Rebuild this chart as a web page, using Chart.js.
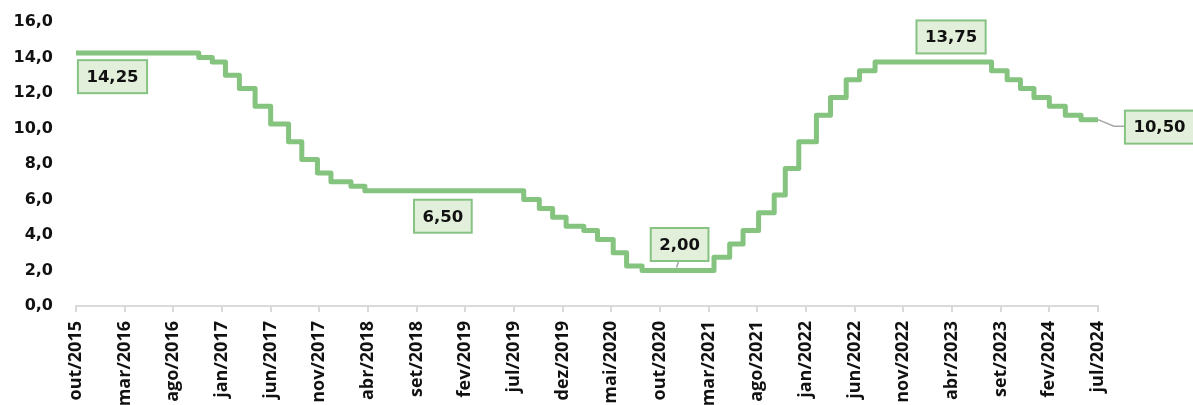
<!DOCTYPE html>
<html>
<head>
<meta charset="utf-8">
<script src="https://cdn.jsdelivr.net/npm/chart.js@4.4.1/dist/chart.umd.min.js"></script>
<style>
  html, body { margin: 0; padding: 0; background: #ffffff; }
  #wrap { width: 1193px; height: 405px; }
</style>
</head>
<body>
<div id="wrap"><canvas id="c" width="1193" height="405"></canvas></div>
<script>
// Copom decision dates (effective) and Selic target (% a.a.)
const decisionDates = ['2015-10-01','2016-10-20','2016-12-01','2017-01-12','2017-02-23','2017-04-13','2017-06-01','2017-07-27','2017-09-07','2017-10-26','2017-12-07','2018-02-08','2018-03-22','2019-08-01','2019-09-19','2019-10-31','2019-12-12','2020-02-06','2020-03-19','2020-05-07','2020-06-18','2020-08-06','2021-03-18','2021-05-06','2021-06-17','2021-08-05','2021-09-23','2021-10-28','2021-12-09','2022-02-03','2022-03-17','2022-05-05','2022-06-16','2022-08-04','2023-08-03','2023-09-21','2023-11-02','2023-12-14','2024-02-01','2024-03-21','2024-05-09','2024-07-01'];
const selicValues = [14.25,14.00,13.75,13.00,12.25,11.25,10.25,9.25,8.25,7.50,7.00,6.75,6.50,6.00,5.50,5.00,4.50,4.25,3.75,3.00,2.25,2.00,2.75,3.50,4.25,5.25,6.25,7.75,9.25,10.75,11.75,12.75,13.25,13.75,13.25,12.75,12.25,11.75,11.25,10.75,10.50,10.50];
const tickLabels = ['out/2015','mar/2016','ago/2016','jan/2017','jun/2017','nov/2017','abr/2018','set/2018','fev/2019','jul/2019','dez/2019','mai/2020','out/2020','mar/2021','ago/2021','jan/2022','jun/2022','nov/2022','abr/2023','set/2023','fev/2024','jul/2024'];
const labelledPoints = [0, 12, 21, 33, 41];

// months elapsed since Oct/2015
function monthIndex(s) {
  const [y, m, d] = s.split('-').map(Number);
  const dim = new Date(y, m, 0).getDate();
  return (y - 2015) * 12 + (m - 10) + (d - 1) / dim;
}
const points = decisionDates.map((d, i) => ({ x: monthIndex(d), y: selicValues[i] }));

const labelStyle = {
  0:  { dx: 36.5, dy: 23.6 },
  12: { dx: 78,   dy: 25.6 },
  21: { dx: 37.5, dy: -26, leader: 'down' },
  33: { dx: 76,   dy: -25 },
  41: { dx: 61.5, dy: 7.5, leader: 'right' }
};

const boxLabels = {
  id: 'boxLabels',
  afterDatasetsDraw(chart) {
    const ctx = chart.ctx;
    const meta = chart.getDatasetMeta(0);
    ctx.save();
    ctx.font = 'bold 16.5px "DejaVu Sans"';
    labelledPoints.forEach(i => {
      const p = meta.data[i];
      const st = labelStyle[i];
      const txt = selicValues[i].toFixed(2).replace('.', ',');
      const tw = ctx.measureText(txt).width;
      const w = tw + 17, h = 33;
      const cx = p.x + st.dx, cy = p.y + st.dy;
      ctx.strokeStyle = '#A6A6A6';
      ctx.lineWidth = 1.5;
      if (st.leader === 'down') {
        ctx.beginPath();
        ctx.moveTo(cx - 1, cy + h / 2);
        ctx.lineTo(cx - 3, p.y - 3);
        ctx.stroke();
      } else if (st.leader === 'right') {
        ctx.beginPath();
        ctx.moveTo(p.x, p.y);
        ctx.lineTo(p.x + 16, p.y + 6.5);
        ctx.lineTo(cx - w / 2, p.y + 6.5);
        ctx.stroke();
      }
      ctx.fillStyle = '#E2EFDA';
      ctx.fillRect(cx - w / 2, cy - h / 2, w, h);
      ctx.strokeStyle = '#86C383';
      ctx.lineWidth = 2;
      ctx.strokeRect(cx - w / 2, cy - h / 2, w, h);
      ctx.fillStyle = '#111111';
      ctx.textAlign = 'center';
      ctx.textBaseline = 'middle';
      ctx.fillText(txt, cx, cy + 1);
    });
    ctx.restore();
  }
};

new Chart(document.getElementById('c'), {
  type: 'line',
  data: {
    datasets: [{
      data: points,
      stepped: 'before',
      borderColor: '#84C47F',
      borderWidth: 5,
      borderCapStyle: 'round',
      borderJoinStyle: 'round',
      pointRadius: 0,
      fill: false
    }]
  },
  options: {
    responsive: false,
    animation: false,
    layout: { padding: { top: 22, right: 95, left: 0, bottom: 0 } },
    plugins: { legend: { display: false }, tooltip: { enabled: false } },
    scales: {
      x: {
        type: 'linear',
        min: 0,
        max: 105,
        afterFit(axis) { axis.height = 99; },
        border: { display: true, color: '#D9D9D9', width: 2 },
        grid: { display: true, drawOnChartArea: false, drawTicks: true, tickLength: 6, color: '#D9D9D9', lineWidth: 2 },
        ticks: {
          stepSize: 5,
          autoSkip: false,
          maxRotation: 90,
          minRotation: 90,
          padding: 9,
          color: '#111111',
          font: { family: '"Open Sans"', weight: 'bold', size: 18 },
          callback: v => tickLabels[Math.round(v / 5)]
        }
      },
      y: {
        min: 0,
        max: 16,
        afterFit(axis) { axis.width = 76; axis.paddingTop = 0; axis.paddingBottom = 0; },
        border: { display: false },
        grid: { display: false, drawTicks: false },
        ticks: {
          stepSize: 2,
          padding: 23,
          color: '#111111',
          font: { family: '"DejaVu Sans"', weight: 'bold', size: 16 },
          callback: v => v.toFixed(1).replace('.', ',')
        }
      }
    }
  },
  plugins: [boxLabels]
});
</script>
</body>
</html>
